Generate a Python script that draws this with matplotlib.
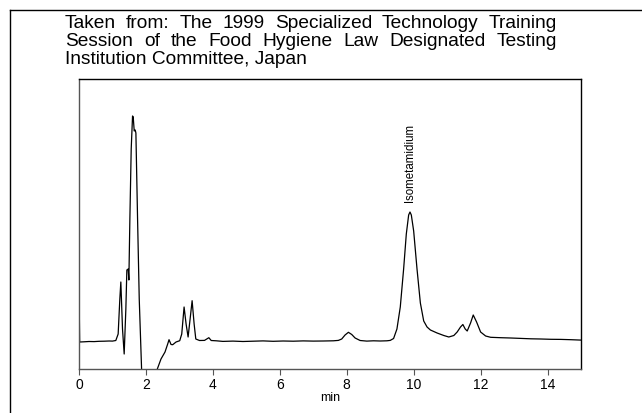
import matplotlib
matplotlib.use("Agg")
import matplotlib.pyplot as plt
from matplotlib.lines import Line2D

plt.rcParams['font.family'] = ['Liberation Sans', 'DejaVu Sans']

# retention time (min) and detector signal (arbitrary units)
time = [0.0, 0.02, 0.15, 0.3, 0.45, 0.6, 0.75, 0.9, 1.0, 1.1, 1.17, 1.22, 1.25,
        1.3, 1.35, 1.4, 1.43, 1.47, 1.49, 1.52, 1.56, 1.6, 1.62, 1.65, 1.68, 1.7,
        1.75, 1.8, 1.87, 2.0, 2.2, 2.34, 2.45, 2.57, 2.65, 2.69, 2.75, 2.8, 2.9,
        3.01, 3.07, 3.14, 3.2, 3.26, 3.32, 3.38, 3.44, 3.49, 3.6, 3.75, 3.88,
        3.95, 4.1, 4.3, 4.6, 4.9, 5.2, 5.5, 5.8, 6.1, 6.4, 6.7, 7.0, 7.3, 7.6,
        7.75, 7.85, 7.95, 8.05, 8.15, 8.25, 8.4, 8.6, 8.8, 9.0, 9.2, 9.3, 9.4,
        9.5, 9.6, 9.7, 9.78, 9.85, 9.89, 9.93, 10.0, 10.1, 10.2, 10.3, 10.4,
        10.5, 10.7, 10.9, 11.05, 11.2, 11.3, 11.4, 11.47, 11.54, 11.6, 11.7,
        11.78, 11.88, 12.0, 12.15, 12.3, 12.6, 12.9, 13.2, 13.5, 13.8, 14.1,
        14.4, 14.7, 15.0]
signal = [80, 27, 27.2, 27.5, 27.4, 27.7, 27.8, 28.0, 27.9, 28.5, 35, 70, 87,
          40, 15, 60, 99, 100, 89, 150, 220, 253, 252, 238, 239, 236,
          150, 70, 0, -50, -25, 0, 10, 17, 25, 29.3, 24.5, 24.3, 27,
          28.3, 35, 62, 45, 32, 50, 68.3, 45, 30, 28.5, 28.6, 31.3,
          28.5, 28.2, 27.6, 27.9, 27.5, 27.8, 28.1, 27.7, 28.0, 27.8, 28.1, 27.9, 28.0, 28.2,
          28.6, 30, 34, 36.7, 34.5, 31, 28.5, 27.9, 28.2, 28.0, 28.2, 28.6, 30.5,
          40, 62, 100, 135, 154, 157, 154, 138, 100, 66, 48, 42,
          39, 36, 33.5, 32, 33.5, 37, 42, 44.5, 40, 38, 46,
          54, 47, 37, 33, 31.7, 31.3, 31.0, 30.6, 30.2, 30.0, 29.7,
          29.6, 29.3, 28.9]

xticks = [0, 2, 4, 6, 8, 10, 12, 14]

title_lines = ["Taken from: The 1999 Specialized Technology Training",
               "Session of the Food Hygiene Law Designated Testing",
               "Institution Committee, Japan"]

fig = plt.figure(figsize=(6.42, 4.14), dpi=100)
ax = fig.add_axes([79 / 642, 1 - 370 / 414, 502 / 642, 290 / 414])

ax.plot(time, signal, color='black', lw=0.9)
ax.set_xlim(0, 15)
ax.set_ylim(0, 290)
ax.set_xticks(xticks)
ax.set_yticks([])
ax.tick_params(axis='x', direction='out', length=4, width=0.8, labelsize=10, pad=2,
               color='#555555')
ax.set_xlabel("min", fontsize=9, labelpad=0)
ax.spines['left'].set_color('#555555')
ax.spines['bottom'].set_color('#555555')
for s in ax.spines.values():
    s.set_linewidth(1.0)

ax.text(9.88, 168, "Isometamidium", rotation=90, ha='center', va='bottom', fontsize=8.3)

# outer frame (top and left only)
fig.add_artist(Line2D([10.5 / 642, 1], [1 - 10.5 / 414, 1 - 10.5 / 414], color='black', lw=1))
fig.add_artist(Line2D([10.5 / 642, 10.5 / 642], [0, 1 - 10.5 / 414], color='black', lw=1))

# justified title block
fs = 13.8
fig.canvas.draw()
renderer = fig.canvas.get_renderer()
x0, x1 = 65 / 642, 557 / 642
ys = [1 - 28.5 / 414, 1 - 46.5 / 414, 1 - 64.5 / 414]
for i, line in enumerate(title_lines):
    if i == len(title_lines) - 1:
        fig.text(x0, ys[i], line, fontsize=fs, va='baseline', ha='left')
        continue
    words = line.split()
    widths = []
    for w in words:
        t = fig.text(0, 0, w, fontsize=fs)
        bb = t.get_window_extent(renderer)
        widths.append(bb.width / fig.bbox.width)
        t.remove()
    gap = (x1 - x0 - sum(widths)) / (len(words) - 1)
    x = x0
    for w, wd in zip(words, widths):
        fig.text(x, ys[i], w, fontsize=fs, va='baseline', ha='left')
        x += wd + gap

fig.savefig("out.png", dpi=100)
